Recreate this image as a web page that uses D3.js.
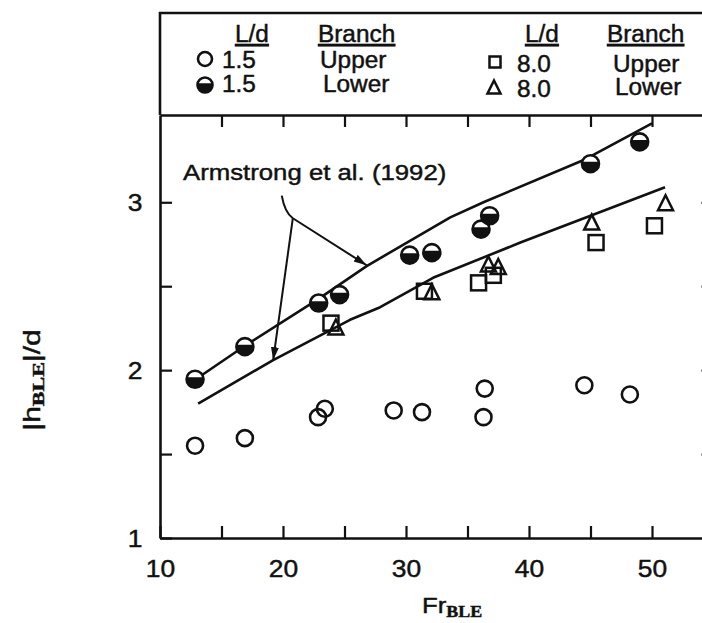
<!DOCTYPE html>
<html>
<head>
<meta charset="utf-8">
<script src="https://cdn.jsdelivr.net/npm/d3@7"></script>
<style>
  body { margin: 0; background: #fff; }
  svg { display: block; }
  text { stroke: #111; stroke-width: 0.45px; }
</style>
</head>
<body>
<svg id="chart" width="702" height="623"></svg>
<script>
// Upper branch, L/d = 1.5 (open circles)
const upper15X = [12.85, 16.9, 22.85, 23.4, 29.0, 31.3, 36.4, 36.3, 44.5, 48.2];
const upper15Y = [1.55, 1.595, 1.72, 1.77, 1.76, 1.75, 1.89, 1.72, 1.91, 1.855];
// Lower branch, L/d = 1.5 (half-filled circles)
const lower15X = [12.85, 16.9, 22.9, 24.6, 30.3, 32.1, 36.1, 36.8, 45.0, 49.0];
const lower15Y = [1.946, 2.14, 2.40, 2.45, 2.685, 2.70, 2.84, 2.92, 3.23, 3.36];
// Upper branch, L/d = 8.0 (squares)
const upper80X = [23.9, 31.5, 35.9, 37.1, 45.45, 50.2];
const upper80Y = [2.28, 2.47, 2.52, 2.565, 2.76, 2.86];
// Lower branch, L/d = 8.0 (triangles)
const lower80X = [24.3, 32.1, 36.7, 37.5, 45.1, 51.1];
const lower80Y = [2.25, 2.46, 2.625, 2.61, 2.875, 2.99];
// Armstrong et al. (1992) curves
const armUpperX = [13.0, 17.0, 22.8, 26.8, 33.6, 36.3, 44.4, 50.0];
const armUpperY = [1.95, 2.15, 2.42, 2.62, 2.91, 3.00, 3.25, 3.47];
const armLowerX = [13.1, 19.2, 25.45, 27.9, 32.2, 39.3, 45.0, 51.06];
const armLowerY = [1.80, 2.06, 2.30, 2.375, 2.55, 2.76, 2.92, 3.09];
// Axis ticks and labels
const xTickVals = [10, 15, 20, 25, 30, 35, 40, 45, 50, 55];
const xLabelVals = [10, 20, 30, 40, 50];
const yTickVals = [1, 1.5, 2, 2.5, 3];
const yLabelVals = [1, 2, 3];

const INK = "#111";
const FONT = "'Liberation Sans', Arial, Helvetica, sans-serif";
const SERIF = "'Liberation Serif', 'Times New Roman', serif";

const svg = d3.select("#chart");
svg.append("rect").attr("width", 702).attr("height", 623).attr("fill", "#fff");

const x = d3.scaleLinear().domain([10, 55]).range([160, 713.5]);
const y = d3.scaleLinear().domain([1, 3.52]).range([538, 115]);

// text helper: glyphs are drawn slightly wide
function label(parent, px, py, str, size, sx, anchor) {
  return parent.append("text")
    .attr("transform", `translate(${px},${py}) scale(${sx},1)`)
    .attr("text-anchor", anchor || "start")
    .attr("font-family", FONT)
    .attr("font-size", size)
    .attr("fill", INK)
    .text(str);
}

function styleAxis(g) {
  g.select(".domain").attr("stroke", INK).attr("stroke-width", 2.6);
  g.selectAll(".tick line").attr("stroke", INK).attr("stroke-width", 2.2);
}

// Bottom axis
const gB = svg.append("g").attr("transform", "translate(0,538)")
  .call(d3.axisBottom(x).tickValues(xTickVals).tickSizeInner(-12).tickSizeOuter(0)
    .tickFormat(d => xLabelVals.includes(d) ? d : ""));
styleAxis(gB);
gB.selectAll(".tick text")
  .attr("y", 39).attr("dy", null)
  .attr("transform", "scale(1.1,1)")
  .attr("font-family", FONT).attr("font-size", 24).attr("fill", INK);

// Top axis
const gT = svg.append("g").attr("transform", "translate(0,115)")
  .call(d3.axisTop(x).tickValues(xTickVals.slice(1)).tickSizeInner(-12).tickSizeOuter(0).tickFormat(""));
styleAxis(gT);

// Left axis
const gL = svg.append("g").attr("transform", "translate(160,0)")
  .call(d3.axisLeft(y).tickValues(yTickVals).tickSizeInner(-12).tickSizeOuter(0)
    .tickFormat(d => yLabelVals.includes(d) ? d : ""));
styleAxis(gL);
gL.selectAll(".tick text")
  .attr("x", -16).attr("dy", "0.36em")
  .attr("transform", "scale(1.1,1)")
  .attr("font-family", FONT).attr("font-size", 24).attr("fill", INK);

// Right axis
const gR = svg.append("g").attr("transform", `translate(${x(55)},0)`)
  .call(d3.axisRight(y).tickValues(yTickVals.slice(1)).tickSizeInner(-12).tickSizeOuter(0).tickFormat(""));
styleAxis(gR);

// Legend frame above the plot
svg.append("path")
  .attr("d", `M${x(10)},115 V13 H720`)
  .attr("fill", "none").attr("stroke", INK).attr("stroke-width", 2.6);

// Marker shapes
function openCircle(g, r) {
  g.append("circle").attr("r", r).attr("fill", "none").attr("stroke", INK).attr("stroke-width", 2.6);
}
function halfCircle(g, r) {
  const h = -0.22 * r, w = Math.sqrt(r * r - h * h);
  g.append("circle").attr("r", r).attr("fill", "#fff").attr("stroke", INK).attr("stroke-width", 2.6);
  g.append("path").attr("d", `M${-w},${h} A${r},${r} 0 1,0 ${w},${h} Z`).attr("fill", INK);
}
function square(g, s) {
  g.append("rect").attr("x", -s / 2).attr("y", -s / 2).attr("width", s).attr("height", s)
    .attr("fill", "none").attr("stroke", INK).attr("stroke-width", 2.5);
}
function triangle(g, s) {
  g.append("path").attr("d", `M0,${-s * 0.58} L${s / 2},${s * 0.42} L${-s / 2},${s * 0.42} Z`)
    .attr("fill", "none").attr("stroke", INK).attr("stroke-width", 2.5).attr("stroke-linejoin", "miter");
}

// Armstrong et al. curves
const line = d3.line().x(d => x(d[0])).y(d => y(d[1]));
[[armUpperX, armUpperY], [armLowerX, armLowerY]].forEach(([xs, ys]) => {
  svg.append("path")
    .attr("d", line(xs.map((v, i) => [v, ys[i]])))
    .attr("fill", "none").attr("stroke", INK).attr("stroke-width", 2.6)
    .attr("stroke-linejoin", "round");
});

// Data markers
function plotSeries(xs, ys, draw, size) {
  xs.forEach((v, i) => {
    const g = svg.append("g").attr("transform", `translate(${x(v)},${y(ys[i])})`);
    draw(g, size);
  });
}
plotSeries(upper15X, upper15Y, openCircle, 8);
plotSeries(upper80X, upper80Y, square, 15);
plotSeries(lower80X, lower80Y, triangle, 15);
plotSeries(lower15X, lower15Y, halfCircle, 8.5);

// Annotation with arrows
const defs = svg.append("defs");
defs.append("marker").attr("id", "arrow")
  .attr("markerUnits", "userSpaceOnUse")
  .attr("markerWidth", 16).attr("markerHeight", 10)
  .attr("refX", 13).attr("refY", 4).attr("orient", "auto")
  .append("path").attr("d", "M0,0 L13,4 L0,8 Z").attr("fill", INK);

label(svg, x(11.87), y(3.13), "Armstrong et al. (1992)", 23, 1.12);
const S = [x(19.9), y(3.04)];
const J = [x(20.8), y(2.905)];
svg.append("path")
  .attr("d", `M${S[0]},${S[1]} Q${S[0] + 3},${S[1] + 17} ${J[0]},${J[1]}`)
  .attr("fill", "none").attr("stroke", INK).attr("stroke-width", 2);
svg.append("line")
  .attr("x1", J[0]).attr("y1", J[1]).attr("x2", x(26.8)).attr("y2", y(2.625))
  .attr("stroke", INK).attr("stroke-width", 2).attr("marker-end", "url(#arrow)");
svg.append("line")
  .attr("x1", J[0]).attr("y1", J[1]).attr("x2", x(19.2)).attr("y2", y(2.06))
  .attr("stroke", INK).attr("stroke-width", 2).attr("marker-end", "url(#arrow)");

// Legend
const leg = svg.append("g");
const LS = 23, LX = 1.06;
label(leg, 235, 42, "L/d", LS, LX).attr("text-decoration", "underline");
label(leg, 318, 42, "Branch", LS, LX).attr("text-decoration", "underline");
label(leg, 525, 42, "L/d", LS, LX).attr("text-decoration", "underline");
label(leg, 607, 42, "Branch", LS, LX).attr("text-decoration", "underline");

openCircle(leg.append("g").attr("transform", "translate(205,59)"), 7);
label(leg, 222, 68, "1.5", LS, LX);
label(leg, 320, 68, "Upper", LS, LX);
halfCircle(leg.append("g").attr("transform", "translate(205,85)"), 7.5);
label(leg, 222, 92, "1.5", LS, LX);
label(leg, 323, 92, "Lower", LS, LX);

square(leg.append("g").attr("transform", "translate(495,62)"), 11);
label(leg, 517, 72, "8.0", LS, LX);
label(leg, 613, 72, "Upper", LS, LX);
triangle(leg.append("g").attr("transform", "translate(494,88)"), 13);
label(leg, 517, 97, "8.0", LS, LX);
label(leg, 615, 95, "Lower", LS, LX);

// Axis titles
const xt = svg.append("text")
  .attr("transform", "translate(422,613) scale(1.12,1)")
  .attr("font-family", FONT).attr("font-size", 23).attr("fill", INK);
xt.append("tspan").text("Fr");
xt.append("tspan").attr("font-family", SERIF).attr("font-weight", "bold")
  .attr("font-size", 16).attr("dy", 4).text("BLE");

const yt = svg.append("text")
  .attr("transform", "translate(40,380) rotate(-90) scale(1.3,1)")
  .attr("text-anchor", "middle")
  .attr("font-family", FONT).attr("font-size", 23).attr("fill", INK);
yt.append("tspan").text("|h");
yt.append("tspan").attr("font-family", SERIF).attr("font-weight", "bold")
  .attr("font-size", 17).attr("dy", 4).text("BLE");
yt.append("tspan").attr("dy", -4).text("|/d");
</script>
</body>
</html>
